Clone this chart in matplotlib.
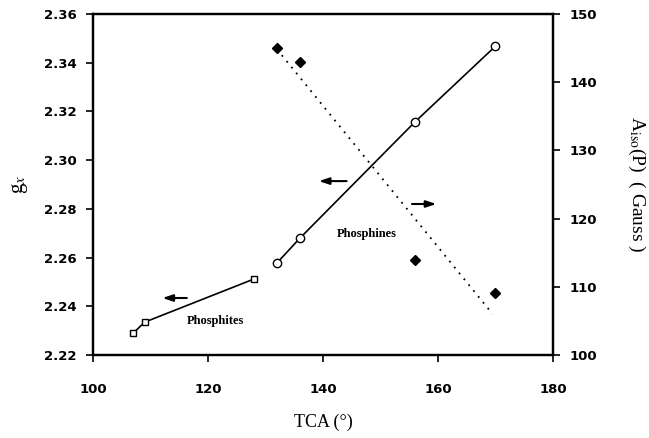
import numpy as np
import matplotlib
matplotlib.use("Agg")
import matplotlib.pyplot as plt

plt.rcParams["mathtext.fontset"] = "stix"

# g_x data (left axis)
phosphite_tca = [107, 109, 128]
phosphite_gx = [2.229, 2.2335, 2.2512]
phosphine_tca = [132, 136, 156, 170]
phosphine_gx = [2.2578, 2.268, 2.3157, 2.3468]

# A_iso(P) data (right axis)
aiso_tca = [132, 136, 156, 170]
aiso_val = [145.0, 143.0, 113.9, 109.1]

x_ticks = [100, 120, 140, 160, 180]
left_ticks = [2.22, 2.24, 2.26, 2.28, 2.30, 2.32, 2.34, 2.36]
right_ticks = [100, 110, 120, 130, 140, 150]

fig = plt.figure(figsize=(6.49, 4.38), dpi=100)
ax = fig.add_axes([0.1433, 0.1895, 0.7087, 0.7785])
ax2 = ax.twinx()

tick_font = dict(family="DejaVu Sans", weight="bold", size=9.5)
serif = "Liberation Serif"

ax.plot(phosphite_tca, phosphite_gx, color="black", lw=1.2,
        marker="s", markersize=5, markerfacecolor="white",
        markeredgecolor="black", markeredgewidth=1.0, zorder=3)
ax.plot(phosphine_tca, phosphine_gx, color="black", lw=1.2,
        marker="o", markersize=6, markerfacecolor="white",
        markeredgecolor="black", markeredgewidth=1.0, zorder=3)

# least-squares line through the A_iso points
coef = np.polyfit(aiso_tca, aiso_val, 1)
xfit = np.array([132, 169.5])
ax2.plot(xfit, np.polyval(coef, xfit), color="black", lw=1.3,
         linestyle=(0, (1, 3.2)))
ax2.plot(aiso_tca, aiso_val, linestyle="none", marker="D", markersize=5.5,
         color="black")

ax.set_xlim(100, 180)
ax.set_ylim(2.22, 2.36)
ax2.set_ylim(100, 150)

ax.set_xticks(x_ticks)
ax.set_xticklabels([str(t) for t in x_ticks], fontdict=tick_font)
ax.set_yticks(left_ticks)
ax.set_yticklabels([f"{t:.2f}" for t in left_ticks], fontdict=tick_font)
ax2.set_yticks(right_ticks)
ax2.set_yticklabels([str(t) for t in right_ticks], fontdict=tick_font)

for a in (ax, ax2):
    for s in a.spines.values():
        s.set_linewidth(1.6)
    a.tick_params(direction="out", length=5, width=1.2, pad=7)
ax.tick_params(axis="x", pad=15)

# arrows showing which axis each set belongs to
arrow = dict(arrowstyle="-|>,head_length=0.6,head_width=0.2",
             color="black", lw=1.5)
ax.annotate("", xy=(111.6, 2.2434), xytext=(116.8, 2.2434), arrowprops=arrow)
ax.annotate("", xy=(138.8, 2.2914), xytext=(144.6, 2.2914), arrowprops=arrow)
ax.annotate("", xy=(160.2, 2.2820), xytext=(155.0, 2.2820), arrowprops=arrow)

ax.text(121.3, 2.2339, "Phosphites", family=serif, weight="bold",
        fontsize=9, ha="center", va="center")
ax.text(147.6, 2.2697, "Phosphines", family=serif, weight="bold",
        fontsize=9, ha="center", va="center")

ax.set_xlabel("TCA (°)", family=serif, fontsize=13, labelpad=13)
ax.set_ylabel("g$_{x}$", family=serif, fontsize=15, labelpad=10)
ax2.set_ylabel(r"A$_{\rm iso}$(P)  ( Gauss )", family=serif, fontsize=14,
               rotation=270, labelpad=36)

fig.savefig("out.png", dpi=100)
